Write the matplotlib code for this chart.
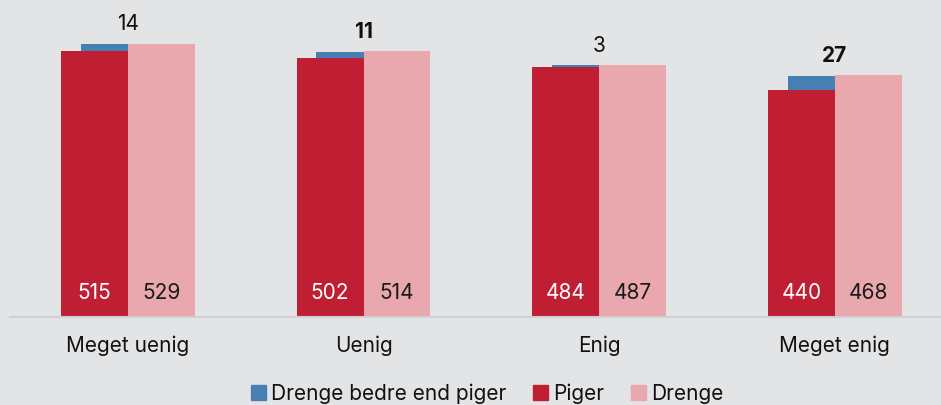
import matplotlib
matplotlib.use("Agg")
import matplotlib.pyplot as plt
import numpy as np
from matplotlib.patches import Patch

categories = ["Meget uenig", "Uenig", "Enig", "Meget enig"]
piger = [515, 502, 484, 440]
drenge = [529, 514, 487, 468]
diff = [14, 11, 3, 27]
significant = [False, True, False, True]

BG = "#e3e4e6"
RED = "#c01f33"
PINK = "#e8a8ad"
BLUE = "#4680b3"

plt.rcParams["font.family"] = ["Inter", "DejaVu Sans"]

fig = plt.figure(figsize=(9.41, 4.05), dpi=100, facecolor=BG)
ax = fig.add_axes([10 / 941, 88 / 405, 931 / 941, 310 / 405], facecolor=BG)

x = np.arange(len(categories))
w = 0.284

# blå søjle bagved = pigernes niveau + forskel
ax.bar(x, np.array(piger) + np.array(diff), width=0.4, color=BLUE, zorder=1)
ax.bar(x - w / 2, piger, width=w, color=RED, zorder=2)
ax.bar(x + w / 2, drenge, width=w, color=PINK, zorder=2)

for i in range(len(categories)):
    ax.annotate(str(piger[i]), (x[i] - w / 2, 0), xytext=(0, 17.5), textcoords="offset points",
                ha="center", va="center", color="white", fontsize=15, zorder=3)
    ax.annotate(str(drenge[i]), (x[i] + w / 2, 0), xytext=(0, 17.5), textcoords="offset points",
                ha="center", va="center", color="#1a1a1a", fontsize=15, zorder=3)
    top = max(piger[i] + diff[i], drenge[i])
    ax.annotate(str(diff[i]), (x[i], top), xytext=(0, 14), textcoords="offset points",
                ha="center", va="center", color="#111111", fontsize=15,
                fontweight="bold" if significant[i] else "normal")

ax.set_xlim(-0.5, 3.45)
ax.set_ylim(0, 600)
ax.set_yticks([])
ax.set_xticks(x)
ax.set_xticklabels(categories, fontsize=15, color="#111111")
ax.tick_params(axis="x", length=0, pad=13)
for s in ["top", "right", "left"]:
    ax.spines[s].set_visible(False)
ax.spines["bottom"].set_color("#cfd0d2")
ax.spines["bottom"].set_linewidth(1.5)

handles = [Patch(color=BLUE, label="Drenge bedre end piger"),
           Patch(color=RED, label="Piger"),
           Patch(color=PINK, label="Drenge")]
fig.legend(handles=handles, loc="center", bbox_to_anchor=(0.518, 0.028), ncol=3,
           frameon=False, fontsize=15, handlelength=0.7, handleheight=0.7,
           handletextpad=0.25, columnspacing=1.3, labelcolor="#111111")

fig.savefig("out.png", dpi=100, facecolor=BG)
